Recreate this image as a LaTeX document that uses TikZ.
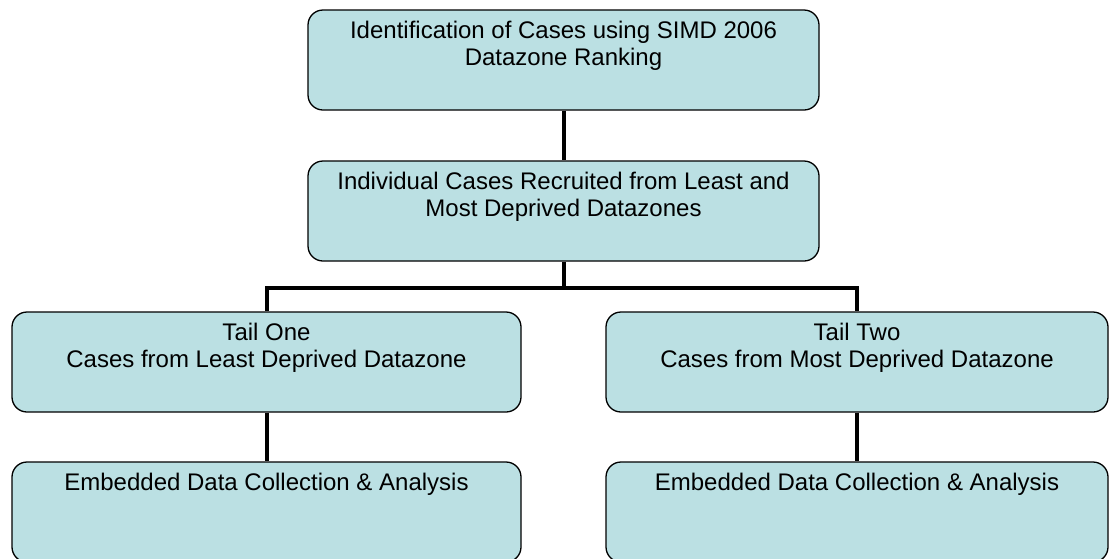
\documentclass[tikz,border=0pt]{standalone}
\usepackage{fontspec}
\setmainfont{Liberation Sans}
\usetikzlibrary{positioning}
\definecolor{stagefill}{RGB}{187,224,227}

\begin{document}
\begin{tikzpicture}[x=1pt, y=-1pt,
  stage/.style={draw=black, line width=1.3pt, fill=stagefill, rounded corners=15pt, minimum height=100pt, inner sep=0pt},
  caption/.style={anchor=north, align=center, inner sep=0pt, font=\fontsize{24}{27}\selectfont},
  link/.style={line width=4pt}]

\useasboundingbox (0,0) rectangle (1109,558);

% stages
\node [stage, minimum width=511pt] (identify) at (563.5,60) {};
\node [stage, minimum width=511pt] (recruit) at (563.5,211) {};
\node [stage, minimum width=509pt] (tail-1) at (266.5,362) {};
\node [stage, minimum width=502pt] (tail-2) at (857,362) {};
\node [stage, minimum width=509pt] (embed-1) at (266.5,512) {};
\node [stage, minimum width=502pt] (embed-2) at (857,512) {};

% captions
\node [caption, below=12pt of identify.north] {Identification of Cases using SIMD 2006\\Datazone Ranking};
\node [caption, below=12pt of recruit.north] {Individual Cases Recruited from Least and\\Most Deprived Datazones};
\node [caption, below=12pt of tail-1.north] {Tail One\\Cases from Least Deprived Datazone};
\node [caption, below=12pt of tail-2.north] {Tail Two\\Cases from Most Deprived Datazone};
\foreach \i in {1,2}
  \node [caption, below=12pt of embed-\i.north] {Embedded Data Collection \& Analysis};

% connectors
\coordinate (split) at (563.5,288);
\draw [link] (identify.south) -- (recruit.north);
\draw [link] (recruit.south) -- (split);
\draw [link] (tail-1.north) |- (split) -| (tail-2.north);
\foreach \i in {1,2}
  \draw [link] (tail-\i.south) -- (embed-\i.north);

\end{tikzpicture}
\end{document}
